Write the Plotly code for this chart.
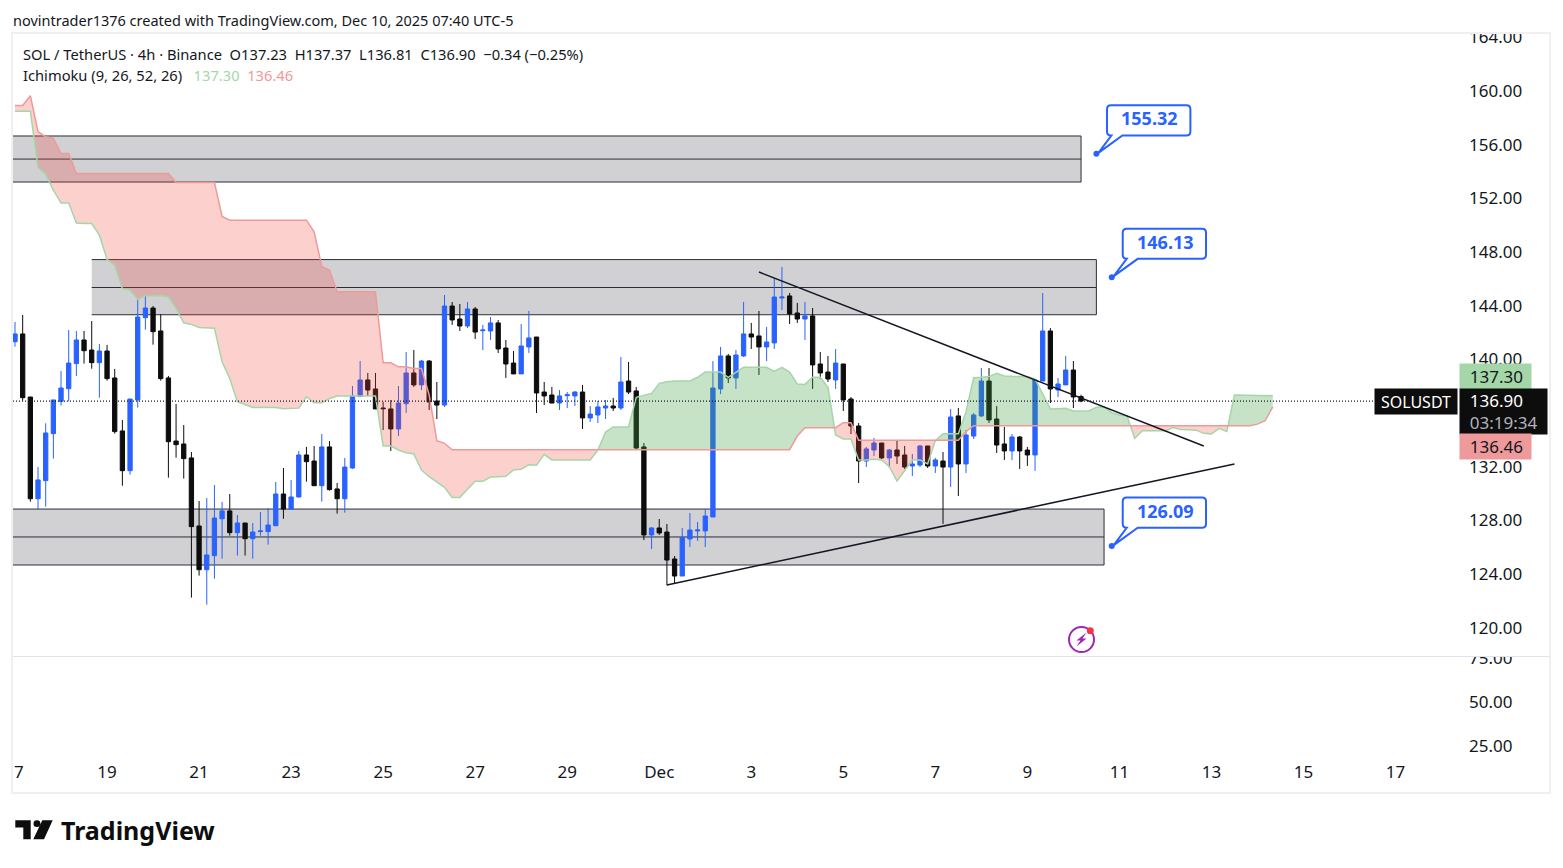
import numpy as np
import pandas as pd
import plotly.graph_objects as go

W, H = 1563, 868
FONT = "Noto Sans"

opens = [141.32,141.90,137.20,129.62,130.97,134.47,136.88,137.82,139.69,141.45,140.70,139.76,140.63,138.62,134.67,131.71,136.98,143.11,143.83,142.12,
    138.62,133.92,133.70,132.66,127.59,124.33,125.38,128.13,128.71,127.09,127.81,126.64,127.17,127.17,127.61,129.97,128.85,129.75,132.88,132.43,
    130.59,133.48,130.35,129.62,131.91,137.23,138.47,137.80,136.38,136.31,134.82,136.70,138.99,138.10,139.88,136.90,136.60,143.98,143.01,142.49,
    143.76,142.14,142.12,142.72,140.85,139.73,138.92,140.93,141.67,137.57,137.35,136.75,137.30,137.28,137.57,135.64,135.86,136.38,136.53,136.38,
    138.39,137.65,133.48,126.92,127.44,127.14,125.13,123.86,126.62,127.22,127.22,128.26,137.80,140.26,138.62,140.26,141.90,141.75,140.93,141.23,
    144.58,144.73,143.46,143.01,143.24,139.66,139.06,138.47,139.66,137.05,135.04,132.43,133.25,133.77,132.66,133.25,132.88,132.06,132.13,133.55,
    132.06,132.43,131.98,135.79,132.21,134.29,135.79,138.39,135.56,133.70,133.18,134.22,133.25,132.88,138.39,142.12,137.72,138.10,139.21,137.23]
highs = [142.79,143.31,137.20,131.98,135.24,136.98,139.14,142.19,142.12,142.12,142.86,141.15,141.08,139.29,135.49,137.05,144.50,144.80,143.98,143.36,
    138.77,136.68,135.11,133.10,129.45,129.67,130.64,129.38,129.97,128.41,127.81,127.81,128.63,128.93,130.87,131.91,131.02,133.18,133.48,133.55,
    134.44,133.92,130.79,132.66,138.02,139.88,138.99,138.99,136.83,136.98,138.02,140.55,140.70,139.96,139.96,138.32,144.80,144.28,144.13,144.28,
    143.91,142.57,143.16,142.94,141.45,140.63,142.64,143.61,141.67,138.32,137.95,137.72,137.57,137.65,138.10,136.53,136.90,136.98,137.13,140.18,
    139.81,137.95,133.77,127.51,128.11,127.74,125.35,127.44,128.56,127.89,128.85,139.88,140.93,140.41,140.70,144.28,142.72,143.61,142.42,146.07,
    146.89,144.95,144.21,144.28,143.83,140.55,140.26,140.78,139.66,137.20,135.26,133.48,134.15,133.77,133.33,134.00,133.55,132.95,133.62,133.55,
    132.66,133.10,136.31,136.38,134.74,136.01,139.36,139.36,136.53,134.97,134.44,134.29,133.48,138.54,144.95,142.34,138.62,140.26,139.88,137.37]
lows = [140.95,136.93,129.40,128.83,129.03,132.61,136.56,136.88,138.77,139.69,139.31,137.15,138.42,134.47,130.59,131.41,136.41,142.22,141.10,138.42,
    131.19,132.68,131.12,122.25,123.89,121.73,123.66,125.15,126.87,125.38,125.38,125.15,126.87,126.20,127.61,128.13,128.85,129.70,130.89,130.59,
    129.40,130.22,128.51,128.58,131.84,137.23,137.28,136.31,134.74,133.18,134.29,136.01,137.95,137.72,136.23,135.56,136.46,142.57,142.12,142.34,
    141.52,140.70,141.45,140.48,138.62,138.92,138.92,140.48,136.01,136.60,136.75,136.23,136.38,136.53,134.82,135.34,135.26,135.56,136.16,136.23,
    137.42,133.33,126.54,125.87,126.92,123.17,123.27,123.86,126.02,126.47,126.02,128.26,137.42,138.24,137.80,140.18,140.78,138.84,139.88,140.78,
    143.68,142.64,142.72,141.45,137.80,138.54,138.32,137.80,136.16,134.44,130.79,131.98,132.80,132.58,131.91,132.21,131.84,131.31,131.98,131.91,
    131.54,127.74,130.49,129.82,131.54,134.07,135.71,135.26,133.03,132.51,132.51,131.84,132.06,131.69,138.39,136.75,137.20,138.10,136.38,136.81]
closes = [141.90,137.15,129.62,131.02,134.52,136.98,137.87,139.73,141.45,140.65,139.76,140.63,138.57,134.62,131.71,137.05,143.16,143.83,142.07,138.57,
    133.87,133.65,132.61,127.54,124.33,125.43,128.18,128.71,127.09,127.81,126.64,127.14,127.22,127.66,129.97,128.85,129.75,132.88,132.38,130.59,
    133.48,130.30,129.62,131.98,137.28,138.47,137.72,136.31,136.33,134.82,136.75,138.99,138.10,139.88,136.83,136.60,143.98,142.94,142.49,143.76,
    142.04,142.19,142.72,140.78,139.66,138.92,141.00,141.60,137.50,137.28,136.75,137.28,137.37,137.57,135.64,135.93,136.46,136.53,136.38,138.32,
    137.57,133.40,126.92,127.44,127.07,125.05,123.86,126.72,127.29,127.29,128.33,137.87,140.26,138.62,140.33,141.90,141.67,140.93,141.30,144.65,
    144.65,143.39,143.01,143.24,139.59,138.99,138.54,139.73,136.98,135.04,132.43,133.33,133.77,132.66,133.25,132.80,131.98,132.21,133.55,132.06,
    132.51,131.98,135.71,132.21,134.37,135.86,138.39,135.49,133.62,133.18,134.22,133.18,132.88,138.47,142.12,137.80,138.17,139.21,137.20,136.90]

# ichimoku leading spans, run 26 bars past the last candle
span_a = [158.50,158.50,158.50,154.31,153.81,152.62,151.65,151.65,150.16,150.13,150.13,149.26,147.45,147.03,145.27,145.17,144.47,144.74,144.74,144.77,
    144.67,143.80,142.73,142.61,142.38,142.36,142.33,139.83,138.58,136.85,136.65,136.42,136.42,136.42,136.42,136.32,136.32,136.37,137.22,136.77,
    136.77,137.09,137.27,137.27,137.27,137.27,137.27,137.27,133.55,133.55,133.25,133.05,132.95,131.76,131.26,130.84,130.47,129.72,129.72,130.32,
    130.92,130.92,131.24,131.26,131.29,131.76,131.81,132.16,132.11,132.93,132.51,132.51,132.51,132.51,132.51,132.51,133.25,134.59,134.97,134.97,
    134.97,137.18,137.33,137.47,138.22,138.34,138.39,138.39,138.39,138.67,139.06,139.06,139.06,138.67,139.06,139.41,139.41,139.41,139.41,139.11,
    139.41,139.06,138.17,138.14,138.67,138.67,137.92,134.37,134.07,134.07,132.51,132.51,132.56,132.51,132.01,130.94,131.76,132.51,132.51,132.21,
    133.95,134.47,134.47,134.47,136.11,138.64,138.67,138.72,138.96,138.77,138.74,138.74,138.72,138.54,137.47,136.31,136.33,136.36,136.16,136.16,
    136.16,136.43,136.46,136.03,135.86,135.79,134.11,134.68,134.68,134.68,134.68,134.93,134.78,134.76,134.73,134.49,134.44,134.86,134.63,137.34,
    137.34,137.34,137.34,137.34,137.30]
span_b = [158.93,158.93,159.65,156.97,156.59,156.47,155.35,155.35,153.86,153.86,153.86,153.86,153.86,153.86,153.86,153.86,153.86,153.86,153.86,153.86,
    153.86,153.19,153.19,153.19,153.19,153.19,153.19,150.66,150.38,150.38,150.38,150.38,150.38,150.38,150.38,150.38,150.38,150.38,150.38,149.51,
    146.91,146.66,145.04,145.04,145.04,145.04,145.04,145.04,139.75,139.75,139.45,139.45,139.33,139.33,137.35,133.95,133.75,133.27,133.27,133.27,
    133.27,133.27,133.27,133.27,133.27,133.27,133.27,133.27,133.27,133.27,133.27,133.27,133.27,133.27,133.27,133.27,133.27,133.27,133.27,133.27,
    133.27,133.27,133.27,133.27,133.27,133.27,133.27,133.27,133.27,133.27,133.27,133.27,133.27,133.27,133.27,133.27,133.27,133.27,133.27,133.27,
    133.27,133.27,134.29,134.91,134.91,134.91,134.91,134.91,135.29,135.29,133.98,133.98,133.98,133.98,133.98,133.98,133.98,133.98,133.98,133.98,
    133.98,133.98,133.98,133.98,134.62,135.06,135.06,135.06,135.06,135.06,135.06,135.06,135.06,135.06,135.06,135.06,135.06,135.06,135.06,135.06,
    135.06,135.06,135.06,135.06,135.06,135.06,135.06,135.06,135.06,135.06,135.06,135.06,135.06,135.06,135.06,135.06,135.06,135.06,135.06,135.06,
    135.06,135.06,135.18,135.43,136.46]

zone_top = [156.65, 147.44, 128.85]
zone_mid = [154.93, 145.36, 126.77]
zone_bot = [153.22, 143.33, 124.68]
zone_start = ["2025-11-10 00:00", "2025-11-18 19:00", "2025-11-10 00:00"]
zone_end = ["2025-12-10 07:00", "2025-12-10 15:00", "2025-12-10 19:00"]

trend_x = [["2025-12-03 07:00", "2025-12-12 23:00"], ["2025-12-01 07:00", "2025-12-13 15:00"]]
trend_y = [[146.51, 133.55], [123.19, 132.21]]

callout_x = ["2025-12-10 15:00", "2025-12-10 23:00", "2025-12-10 23:00"]
callout_y = [155.32, 146.13, 126.09]
callout_text = ["155.32", "146.13", "126.09"]

x_tick_dates = ["2025-11-17 05:00", "2025-11-19 03:00", "2025-11-21 03:00", "2025-11-23 03:00", "2025-11-25 03:00", "2025-11-27 03:00",
    "2025-11-29 03:00", "2025-12-01 03:00", "2025-12-03 03:00", "2025-12-05 03:00", "2025-12-07 03:00", "2025-12-09 03:00",
    "2025-12-11 03:00", "2025-12-13 03:00", "2025-12-15 03:00", "2025-12-17 03:00"]
x_tick_labels = ["7", "19", "21", "23", "25", "27", "29", "Dec", "3", "5", "7", "9", "11", "13", "15", "17"]
price_ticks = [120, 124, 128, 132, 140, 144, 148, 152, 156, 160, 164]
lower_ticks = [25, 50, 75]

start = pd.Timestamp("2025-11-17 03:00")


def px_x(px):
    return px / W


def px_y(px):
    return 1 - px / H


def bar_time(idx):
    return start + pd.to_timedelta(np.asarray(idx, dtype=float) * 4, unit="h")


# add the crossing points so the two fills meet cleanly
xs, ya, yb = [], [], []
for i in range(len(span_a)):
    xs.append(i)
    ya.append(span_a[i])
    yb.append(span_b[i])
    if i + 1 < len(span_a):
        d0 = span_a[i] - span_b[i]
        d1 = span_a[i + 1] - span_b[i + 1]
        if d0 * d1 < 0:
            t = d0 / (d0 - d1)
            xs.append(i + t)
            yc = span_a[i] + t * (span_a[i + 1] - span_a[i])
            ya.append(yc)
            yb.append(yc)
ya = np.array(ya)
yb = np.array(yb)
cloud_x = bar_time(xs)

fig = go.Figure()
no_line = dict(width=0)
fig.add_trace(go.Scatter(x=cloud_x, y=yb, mode="lines", line=no_line))
fig.add_trace(go.Scatter(x=cloud_x, y=np.maximum(ya, yb), mode="lines", line=no_line, fill="tonexty", fillcolor="rgba(67,160,71,0.3)"))
fig.add_trace(go.Scatter(x=cloud_x, y=yb, mode="lines", line=no_line))
fig.add_trace(go.Scatter(x=cloud_x, y=np.minimum(ya, yb), mode="lines", line=no_line, fill="tonexty", fillcolor="rgba(244,67,54,0.25)"))
fig.add_trace(go.Scatter(x=bar_time(range(len(span_a))), y=span_a, mode="lines", line=dict(color="#a5d6a7", width=1.5)))
fig.add_trace(go.Scatter(x=bar_time(range(len(span_b))), y=span_b, mode="lines", line=dict(color="#ef9a9a", width=1.5)))

fig.add_trace(go.Candlestick(
    x=bar_time(range(len(opens))), open=opens, high=highs, low=lows, close=closes,
    increasing=dict(line=dict(color="#2962ff", width=1), fillcolor="#2962ff"),
    decreasing=dict(line=dict(color="#0d0d0d", width=1), fillcolor="#0d0d0d"),
    whiskerwidth=0,
))

for tx, ty in zip(trend_x, trend_y):
    fig.add_trace(go.Scatter(x=tx, y=ty, mode="lines", line=dict(color="#131722", width=1.5)))
fig.add_trace(go.Scatter(x=callout_x, y=callout_y, mode="markers", marker=dict(color="#2962ff", size=6)))
# empty pane under the price, only its axis shows
fig.add_trace(go.Scatter(x=[], y=[], yaxis="y2"))

shapes = []
zone_line = dict(color="#2a2e39", width=1)
for z in range(3):
    # the drawings have no left edge, so the box gets its lines one by one
    shapes.append(dict(type="rect", xref="x", yref="y", layer="below", x0=zone_start[z], x1=zone_end[z], y0=zone_bot[z], y1=zone_top[z],
                       fillcolor="#d1d1d4", line=dict(width=0)))
    for level in (zone_top[z], zone_mid[z], zone_bot[z]):
        shapes.append(dict(type="line", xref="x", yref="y", layer="below", x0=zone_start[z], x1=zone_end[z], y0=level, y1=level, line=zone_line))
    shapes.append(dict(type="line", xref="x", yref="y", layer="below", x0=zone_end[z], x1=zone_end[z], y0=zone_bot[z], y1=zone_top[z], line=zone_line))
shapes.append(dict(type="line", xref="paper", yref="y", x0=px_x(13), x1=px_x(1376), y0=136.90, y1=136.90, line=dict(color="#131722", width=1.3, dash="1px,2px")))

# masks that cut the axis labels at the pane edges, then the frame
shapes.append(dict(type="rect", xref="paper", yref="paper", x0=px_x(1459), x1=px_x(1549), y0=px_y(33), y1=1, fillcolor="white", line=dict(width=0)))
shapes.append(dict(type="rect", xref="paper", yref="paper", x0=px_x(1459), x1=px_x(1549), y0=px_y(656), y1=px_y(645), fillcolor="white", line=dict(width=0)))
shapes.append(dict(type="rect", xref="paper", yref="paper", x0=px_x(12), x1=px_x(1550), y0=px_y(793), y1=px_y(33), line=dict(color="#f0f0f3", width=2)))
shapes.append(dict(type="line", xref="paper", yref="paper", x0=px_x(13), x1=px_x(1550), y0=px_y(656.5), y1=px_y(656.5), line=dict(color="#e0e3eb", width=1)))


def callout_path(left, right):
    # relative to the dot, y going up
    top, bot, r = 48.5, 18.3, 4
    return (f"M 15 {bot} L {left+r} {bot} Q {left} {bot} {left} {bot+r} L {left} {top-r} "
            f"Q {left} {top} {left+r} {top} L {right-r} {top} Q {right} {top} {right} {top-r} L {right} {bot+r} "
            f"Q {right} {bot} {right-r} {bot} L 26 {bot} L 2 1 Z")


for cx, cy, dx in zip(callout_x, callout_y, [(10.6, 94), (11, 94.3), (11, 94.3)]):
    shapes.append(dict(type="path", xref="x", yref="y", xsizemode="pixel", ysizemode="pixel", xanchor=cx, yanchor=cy,
                       path=callout_path(*dx), fillcolor="white", line=dict(color="#2962ff", width=2)))

# tradingview logo and the bolt badge, in page pixels
logo = ("M 15.3 -820.3 L 30.7 -820.3 L 30.7 -839.3 L 23.3 -839.3 L 23.3 -827.5 L 15.3 -827.5 Z "
        "M 42.3 -820.3 L 52.7 -820.3 L 44 -839.3 L 33.3 -839.3 Z "
        "M 33.5 -823.7 Q 33.5 -820.3 37 -820.3 Q 40.4 -820.3 40.4 -823.7 Q 40.4 -827 37 -827 Q 33.5 -827 33.5 -823.7 Z")
shapes.append(dict(type="path", xref="paper", yref="paper", xsizemode="pixel", ysizemode="pixel", xanchor=0, yanchor=1,
                   path=logo, fillcolor="#0d0d0d", line=dict(width=0)))
shapes.append(dict(type="circle", xref="paper", yref="paper", x0=px_x(1069), x1=px_x(1094), y0=px_y(652), y1=px_y(627), line=dict(color="#9c27b0", width=2), fillcolor="white"))
shapes.append(dict(type="path", xref="paper", yref="paper", xsizemode="pixel", ysizemode="pixel", xanchor=px_x(1081.5), yanchor=px_y(639.5),
                   path="M 5 7 L -5 -1 L -1 -1 L -5 -7 L 5 1 L 1 1 Z", fillcolor="#9c27b0", line=dict(width=0)))
shapes.append(dict(type="circle", xref="paper", yref="paper", x0=px_x(1086.8), x1=px_x(1093.8), y0=px_y(634.2), y1=px_y(627.2), fillcolor="#f23645", line=dict(width=0)))


def note(px, py, text, size=14.5, color="#131722", anchor="left", **kw):
    return dict(xref="paper", yref="paper", x=px_x(px), y=px_y(py), text=text, showarrow=False, xanchor=anchor, yanchor="middle",
                font=dict(family=FONT, size=size, color=color), **kw)


nb = "\u00a0"
annotations = [
    note(11, 20, "novintrader1376 created with TradingView.com, Dec 10, 2025 07:40 UTC-5"),
    note(21, 54, f"SOL / TetherUS · 4h · Binance{nb}{nb}O137.23{nb}{nb}H137.37{nb}{nb}L136.81{nb}{nb}C136.90{nb}{nb}−0.34 (−0.25%)", size=14.7),
    note(21, 75, f"Ichimoku (9, 26, 52, 26){nb}{nb}{nb}<span style='color:#a5d6a7'>137.30</span>{nb}{nb}<span style='color:#ef9a9a'>136.46</span>", size=14.7),
    note(59, 830, "<b>TradingView</b>", size=25, color="#0d0d0d"),
    note(1459, 376.5, f"{nb}{nb}137.30", size=17, bgcolor="#a5d6a7", width=69, height=23, align="left"),
    note(1459, 411.5, f"{nb}{nb}136.90<br>{nb}{nb}<span style='color:#b2b5be'>03:19:34</span>", size=17, color="white", bgcolor="#0d0d0d", width=85, height=43, align="left"),
    note(1459, 446.5, f"{nb}{nb}136.46", size=17, bgcolor="#ef9a9a", width=69, height=23, align="left"),
    note(1458, 401.5, "SOLUSDT", size=16, color="white", anchor="right", bgcolor="#0d0d0d", width=80, height=23),
]
for v, cx, cy, tx in zip(callout_text, callout_x, callout_y, [53, 54, 54]):
    annotations.append(dict(xref="x", yref="y", x=cx, y=cy, xshift=tx, yshift=35.5, text=f"<b>{v}</b>", showarrow=False,
                            font=dict(family=FONT, size=18, color="#2962ff")))

fig.update_layout(
    width=W, height=H, margin=dict(l=0, r=0, t=0, b=0, autoexpand=False), paper_bgcolor="white", plot_bgcolor="white",
    showlegend=False, hovermode=False, font=dict(family=FONT, size=17, color="#131722"),
    shapes=shapes, annotations=annotations, boxgap=0.2,
    xaxis=dict(domain=[px_x(13), px_x(1458)], anchor="y2", type="date", range=["2025-11-17 01:57", "2025-12-18 11:36"],
               tickmode="array", tickvals=x_tick_dates, ticktext=x_tick_labels, ticks="", showgrid=False, zeroline=False,
               rangeslider=dict(visible=False), tickfont=dict(size=17), ticklabelstandoff=3),
    yaxis=dict(domain=[px_y(656), px_y(34)], range=[117.90, 164.25], side="right", anchor="x", tickmode="array", tickvals=price_ticks,
               tickformat=".2f", showgrid=False, zeroline=False, ticks="", tickfont=dict(size=17), ticklabelstandoff=10),
    yaxis2=dict(domain=[px_y(757), px_y(657)], range=[18.75, 75.5], side="right", anchor="x", tickmode="array", tickvals=lower_ticks,
                tickformat=".2f", showgrid=False, zeroline=False, ticks="", tickfont=dict(size=17), ticklabelstandoff=10),
)

# the page's default body margin would push the chart off the window
fig.write_html("out.html", config=dict(displayModeBar=False), post_script="document.body.style.margin='0';")
